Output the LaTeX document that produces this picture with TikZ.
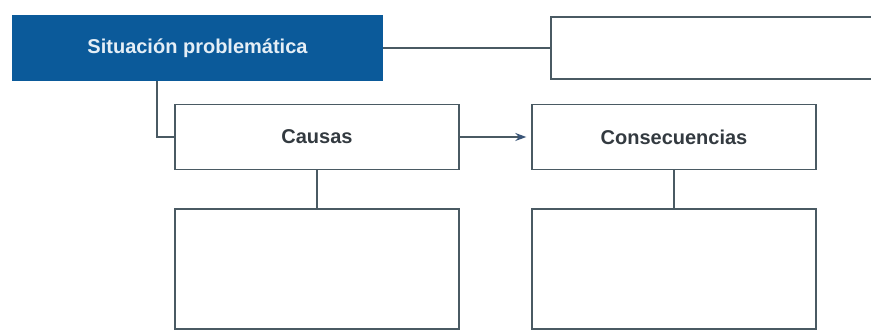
\documentclass[tikz,border=0pt]{standalone}
\usepackage{fontspec}
\setmainfont{Liberation Sans}
\usetikzlibrary{arrows.meta}
\definecolor{mainblue}{HTML}{0B5A9A}
\definecolor{linegray}{HTML}{4A5A63}
\definecolor{textdark}{HTML}{333A40}
\definecolor{titletext}{HTML}{E4EEF6}
\definecolor{arrowblue}{HTML}{3A5578}
\tikzset{
  x=1pt, y=-1pt,
  conn/.style={draw=linegray, line width=1.4pt},
  box/.style={draw=linegray, line width=1.4pt, fill=white, inner sep=0pt, font=\bfseries\fontsize{20}{23}\selectfont, text=textdark},
  titlebox/.style={fill=mainblue, inner sep=0pt, font=\bfseries\fontsize{20}{23}\selectfont, text=titletext}
}
\begin{document}
\begin{tikzpicture}
\useasboundingbox (0,0) rectangle (871,331);
\clip (0,0) rectangle (871,331);
\fill[white] (0,0) rectangle (871,331);
\node[titlebox, minimum width=371pt, minimum height=66pt] (sit) at (197.5,48) {Situación problemática};
\node[box, minimum width=340pt, minimum height=62pt] (top) at (721,48) {};
\node[box, minimum width=284pt, minimum height=65pt] (cau) at (317,137) {Causas};
\node[box, minimum width=284pt, minimum height=65pt] (con) at (674,137) {Consecuencias};
\node[box, minimum width=284pt, minimum height=120pt] (caub) at (317,269) {};
\node[box, minimum width=284pt, minimum height=120pt] (conb) at (674,269) {};
\draw[conn] (sit.east) -- (top.west);
\draw[conn] (sit.south -| 157,0) |- (cau.west);
\draw[conn, -{Stealth[length=11pt,width=8pt,color=arrowblue]}] (cau.east) -- ([xshift=-5pt]con.west);
\draw[conn] (cau.south) -- (caub.north);
\draw[conn] (con.south) -- (conb.north);
\end{tikzpicture}
\end{document}
